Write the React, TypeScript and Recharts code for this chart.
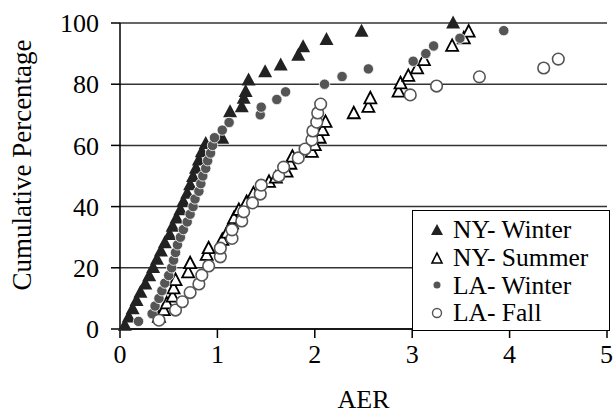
import React from "react";
import {
  ScatterChart,
  Scatter,
  XAxis,
  YAxis,
  CartesianGrid,
  Legend,
  Label,
} from "recharts";

const font = '"Liberation Serif", "Times New Roman", serif';

const xTicks = [0, 1, 2, 3, 4, 5];
const yTicks = [0, 20, 40, 60, 80, 100];

// NY - Winter (filled triangles)
const nyWinterAer = [
  0.05, 0.09, 0.13, 0.17, 0.21, 0.26, 0.3, 0.34, 0.38, 0.42, 0.46, 0.51, 0.54,
  0.58, 0.62, 0.65, 0.69, 0.72, 0.75, 0.78, 0.81, 0.84, 0.88, 1.05, 1.13, 1.25,
  1.27, 1.29, 1.32, 1.49, 1.65, 1.83, 1.88, 2.12, 2.48, 3.42,
];
const nyWinterPct = [
  1.2, 3.9, 6.6, 9.3, 12.0, 14.7, 17.4, 20.1, 22.8, 25.5, 28.2, 30.9, 33.6,
  36.3, 39.0, 41.7, 44.4, 47.1, 49.8, 52.5, 55.2, 57.9, 60.6, 62.3, 71.0, 72.6,
  75.4, 77.6, 81.4, 84.1, 86.3, 89.5, 92.2, 94.6, 97.3, 100,
];

// NY - Summer (open triangles)
const nySummerAer = [
  0.4, 0.45, 0.48, 0.54, 0.55, 0.57, 0.7, 0.72, 0.89, 0.91, 1.05, 1.1, 1.15,
  1.17, 1.22, 1.3, 1.37, 1.53, 1.6, 1.71, 1.75, 1.77, 1.97, 2.0, 2.05, 2.08,
  2.11, 2.4, 2.55, 2.57, 2.86, 2.88, 2.96, 3.05, 3.12, 3.41, 3.53, 3.58,
];
const nySummerPct = [
  4.0, 6.2, 8.4, 10.6, 13.3, 16.0, 18.5, 21.5, 24.2, 26.4, 29.1, 31.5, 34.5,
  36.2, 38.9, 41.5, 44.3, 48.1, 49.5, 51.4, 54.0, 56.3, 57.9, 60.1, 62.5, 65.0,
  67.7, 70.5, 72.6, 75.4, 77.6, 80.3, 82.7, 85.2, 87.9, 92.5, 95.0, 97.2,
];

// LA - Winter (grey dots)
const laWinterAer = [
  0.19, 0.33, 0.36, 0.4, 0.43, 0.46, 0.5, 0.53, 0.55, 0.57, 0.59, 0.62, 0.65,
  0.69, 0.72, 0.75, 0.77, 0.81, 0.83, 0.85, 0.88, 0.9, 0.93, 0.95, 0.97, 1.05,
  1.12, 1.44, 1.45, 1.61, 1.7, 2.1, 2.28, 2.55, 3.01, 3.14, 3.22, 3.49, 3.94,
];
const laWinterPct = [
  2.5, 5.0, 7.5, 10.0, 12.5, 15.0, 17.5, 20.0, 22.5, 25.0, 27.5, 30.0, 32.5,
  35.0, 37.5, 40.0, 42.5, 45.0, 47.5, 50.0, 52.5, 55.0, 57.5, 60.0, 62.5, 65.0,
  67.5, 70.0, 72.5, 75.0, 77.5, 80.0, 82.5, 85.0, 87.5, 90.0, 92.5, 95.0, 97.5,
];

// LA - Fall (open circles)
const laFallAer = [
  0.4, 0.57, 0.64, 0.72, 0.81, 0.84, 0.91, 1.03, 1.03, 1.15, 1.15, 1.25, 1.27,
  1.36, 1.44, 1.45, 1.63, 1.68, 1.83, 1.9, 1.97, 1.98, 2.02, 2.03, 2.06, 2.98,
  3.25, 3.69, 4.35, 4.5,
];
const laFallPct = [
  2.9, 6.2, 8.9, 11.9, 14.7, 17.6, 20.6, 23.6, 26.4, 29.6, 32.4, 35.3, 38.3,
  41.2, 44.1, 47.0, 50.0, 52.9, 55.9, 58.8, 61.8, 64.7, 67.6, 70.6, 73.5, 76.5,
  79.4, 82.4, 85.3, 88.2,
];

const toPoints = (xs: number[], ys: number[]) =>
  xs.map((x, i) => ({ aer: x, pct: ys[i] }));

const FilledTriangle = (props: any) => {
  const { cx, cy } = props;
  if (cx == null || cy == null) return null;
  return (
    <polygon
      points={`${cx},${cy - 7.5} ${cx + 7},${cy + 5.5} ${cx - 7},${cy + 5.5}`}
      fill="#222"
    />
  );
};

const OpenTriangle = (props: any) => {
  const { cx, cy } = props;
  if (cx == null || cy == null) return null;
  return (
    <polygon
      points={`${cx},${cy - 6.5} ${cx + 6},${cy + 5} ${cx - 6},${cy + 5}`}
      fill="#fff"
      stroke="#000"
      strokeWidth={1.8}
    />
  );
};

const GreyDot = (props: any) => {
  const { cx, cy } = props;
  if (cx == null || cy == null) return null;
  return <circle cx={cx} cy={cy} r={5.2} fill="#555" stroke="#fff" strokeWidth={0.8} />;
};

const OpenCircle = (props: any) => {
  const { cx, cy } = props;
  if (cx == null || cy == null) return null;
  return (
    <circle cx={cx} cy={cy} r={5.8} fill="#fff" stroke="#555" strokeWidth={1.6} />
  );
};

const legendRows = [
  {
    label: "NY- Winter",
    icon: <polygon points="8,2 14,13 2,13" fill="#222" />,
  },
  {
    label: "NY- Summer",
    icon: <polygon points="8,3 13,13 3,13" fill="#fff" stroke="#000" strokeWidth={1.6} />,
  },
  {
    label: "LA- Winter",
    icon: <circle cx={8} cy={8} r={3.5} fill="#555" />,
  },
  {
    label: "LA- Fall",
    icon: <circle cx={8} cy={8} r={4.5} fill="#fff" stroke="#555" strokeWidth={1.4} />,
  },
];

const LegendBox = () => (
  <div
    style={{
      width: 198,
      height: 121,
      boxSizing: "border-box",
      border: "1.5px solid #000",
      background: "#fff",
      padding: "5px 0 0 16px",
      fontFamily: font,
      fontSize: 25.5,
      color: "#000",
    }}
  >
    {legendRows.map((r) => (
      <div
        key={r.label}
        style={{ display: "flex", alignItems: "center", height: 27.7 }}
      >
        <svg width={16} height={16}>
          {r.icon}
        </svg>
        <span style={{ marginLeft: 8, lineHeight: "27px" }}>{r.label}</span>
      </div>
    ))}
  </div>
);

export default function App() {
  const tickStyle = { fontSize: 26, fill: "#000", fontFamily: font };
  return (
    <div style={{ position: "fixed", left: 0, top: 0, background: "#fff" }}>
      <ScatterChart
        width={613}
        height={416}
        margin={{ top: 23, right: 6, bottom: 0, left: 0 }}
      >
        <CartesianGrid
          vertical={false}
          horizontal
          stroke="#333"
          strokeWidth={1.5}
        />
        <XAxis
          type="number"
          dataKey="aer"
          domain={[0, 5]}
          ticks={xTicks}
          height={87}
          tick={tickStyle}
          tickSize={9}
          tickMargin={7}
          axisLine={{ stroke: "#000", strokeWidth: 1.5 }}
          tickLine={{ stroke: "#000", strokeWidth: 1.5 }}
        >
          <Label
            value="AER"
            position="insideBottom"
            offset={8}
            style={{ fontSize: 26, fill: "#000", fontFamily: font }}
          />
        </XAxis>
        <YAxis
          type="number"
          dataKey="pct"
          domain={[0, 100]}
          ticks={yTicks}
          width={120}
          tick={tickStyle}
          tickSize={9}
          tickMargin={12}
          axisLine={{ stroke: "#000", strokeWidth: 1.5 }}
          tickLine={{ stroke: "#000", strokeWidth: 1.5 }}
        >
          <Label
            content={() => (
              <text
                x={22}
                y={165}
                transform="rotate(-90 22 165)"
                textAnchor="middle"
                dominantBaseline="central"
                style={{ fontSize: 27, fill: "#000", fontFamily: font }}
              >
                Cumulative Percentage
              </text>
            )}
          />
        </YAxis>
        <Scatter
          name="NY- Winter"
          data={toPoints(nyWinterAer, nyWinterPct)}
          shape={FilledTriangle}
          isAnimationActive={false}
        />
        <Scatter
          name="NY- Summer"
          data={toPoints(nySummerAer, nySummerPct)}
          shape={OpenTriangle}
          isAnimationActive={false}
        />
        <Scatter
          name="LA- Winter"
          data={toPoints(laWinterAer, laWinterPct)}
          shape={GreyDot}
          isAnimationActive={false}
        />
        <Scatter
          name="LA- Fall"
          data={toPoints(laFallAer, laFallPct)}
          shape={OpenCircle}
          isAnimationActive={false}
        />
        <Legend
          layout="vertical"
          align="center"
          verticalAlign="middle"
          content={<LegendBox />}
          wrapperStyle={{ left: 412, top: 210, width: 198, height: 121 }}
        />
      </ScatterChart>
    </div>
  );
}
